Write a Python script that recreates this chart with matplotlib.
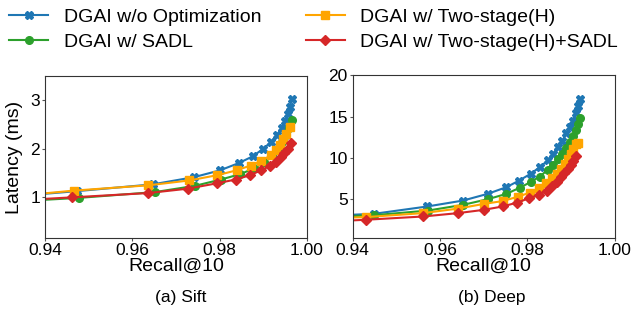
import matplotlib
matplotlib.use("Agg")
import matplotlib.pyplot as plt

plt.rcParams["font.family"] = ["Liberation Sans", "DejaVu Sans"]
plt.rcParams["font.size"] = 12

labels = [
    "DGAI w/o Optimization",
    "DGAI w/ SADL",
    "DGAI w/ Two-stage(H)",
    "DGAI w/ Two-stage(H)+SADL",
]
colors = ["#1f77b4", "#2ca02c", "#ffa500", "#d62728"]
markers = ["X", "o", "s", "D"]

# (a) Sift
sift_recall = [
    [0.930, 0.9474, 0.9647, 0.9742, 0.9801, 0.9844, 0.9876, 0.9899, 0.9917,
     0.9931, 0.9942, 0.9950, 0.9956, 0.9961, 0.9965],
    [0.930, 0.9478, 0.9652, 0.9744, 0.9803, 0.9847, 0.9879, 0.9902, 0.9921,
     0.9934, 0.9944, 0.9952, 0.9959, 0.9965],
    [0.930, 0.9466, 0.9637, 0.9730, 0.9795, 0.9839, 0.9871, 0.9896, 0.9917,
     0.9929, 0.9938, 0.9946, 0.9953, 0.9961],
    [0.930, 0.9461, 0.9637, 0.9727, 0.9793, 0.9837, 0.9870, 0.9895, 0.9915,
     0.9929, 0.9940, 0.9948, 0.9956, 0.9963],
]
sift_latency = [
    [0.99, 1.12, 1.26, 1.41, 1.55, 1.70, 1.84, 1.99, 2.13, 2.28, 2.42, 2.57,
     2.71, 2.86, 3.02],
    [0.89, 0.98, 1.10, 1.23, 1.36, 1.47, 1.59, 1.73, 1.86, 2.00, 2.14, 2.28,
     2.43, 2.59],
    [0.99, 1.13, 1.24, 1.34, 1.45, 1.55, 1.65, 1.75, 1.86, 1.97, 2.08, 2.19,
     2.31, 2.45],
    [0.91, 0.99, 1.08, 1.17, 1.28, 1.36, 1.45, 1.55, 1.64, 1.73, 1.82, 1.91,
     2.00, 2.11],
]

# (b) Deep
deep_recall = [
    [0.935, 0.9449, 0.9571, 0.9653, 0.9709, 0.9752, 0.9781, 0.9807, 0.9828,
     0.9848, 0.9859, 0.9870, 0.9880, 0.9889, 0.9897, 0.9903, 0.9910, 0.9915,
     0.9920],
    [0.935, 0.9449, 0.9573, 0.9653, 0.9710, 0.9752, 0.9783, 0.9807, 0.9828,
     0.9846, 0.9859, 0.9870, 0.9880, 0.9889, 0.9897, 0.9903, 0.9910, 0.9915,
     0.9920],
    [0.935, 0.9430, 0.9562, 0.9642, 0.9701, 0.9743, 0.9779, 0.9806, 0.9827,
     0.9842, 0.9855, 0.9867, 0.9877, 0.9886, 0.9893, 0.9899, 0.9905, 0.9910,
     0.9915],
    [0.935, 0.9430, 0.9562, 0.9642, 0.9701, 0.9743, 0.9777, 0.9804, 0.9826,
     0.9844, 0.9857, 0.9867, 0.9876, 0.9884, 0.9892, 0.9899, 0.9905, 0.9912],
]
deep_latency = [
    [3.0, 3.22, 4.11, 4.83, 5.64, 6.45, 7.25, 8.06, 8.87, 9.75, 10.48, 11.36,
     12.09, 12.98, 13.78, 14.50, 15.40, 16.28, 17.09],
    [2.85, 3.05, 3.62, 4.31, 5.00, 5.64, 6.40, 7.06, 7.73, 8.54, 9.11, 9.84,
     10.48, 11.20, 11.93, 12.65, 13.38, 14.10, 14.80],
    [2.7, 2.82, 3.31, 3.86, 4.43, 4.76, 5.31, 5.80, 6.37, 7.01, 7.54, 8.06,
     8.63, 9.23, 9.84, 10.44, 11.08, 11.69, 11.77],
    [2.3, 2.50, 2.90, 3.31, 3.71, 4.11, 4.59, 5.12, 5.52, 6.00, 6.61, 7.13,
     7.66, 8.14, 8.63, 9.15, 9.67, 10.24],
]

fig = plt.figure(figsize=(6.34, 3.16), dpi=100)
ax0 = fig.add_axes([0.071, 0.247, 0.413, 0.512])
ax1 = fig.add_axes([0.556, 0.247, 0.414, 0.515])


def draw(ax, rec, lat):
    lines = []
    for i in range(4):
        ln, = ax.plot(rec[i], lat[i], color=colors[i], marker=markers[i],
                      markersize=5.5, linewidth=1.5, label=labels[i])
        lines.append(ln)
    ax.set_xlim(0.94, 1.00)
    ax.set_xticks([0.94, 0.96, 0.98, 1.00])
    ax.set_xlabel("Recall@10", fontsize=14, labelpad=0)
    ax.tick_params(labelsize=12.5, length=2, pad=1.5, color="#555555")
    for s in ax.spines.values():
        s.set_color("#333333")
    return lines


lines = draw(ax0, sift_recall, sift_latency)
ax0.set_ylim(0.15, 3.5)
ax0.set_yticks([1, 2, 3])
ax0.set_ylabel("Latency (ms)", fontsize=14, labelpad=5)
draw(ax1, deep_recall, deep_latency)
ax1.set_ylim(0.3, 20)
ax1.set_yticks([5, 10, 15, 20])

fig.text(0.285, 0.057, "(a) Sift", ha="center", va="center", fontsize=12.5)
fig.text(0.776, 0.057, "(b) Deep", ha="center", va="center", fontsize=12.5)

fig.legend(handles=lines, ncol=2, fontsize=14,
           loc="upper left", bbox_to_anchor=(-0.013, 1.03), frameon=False,
           columnspacing=2.3, handletextpad=0.8, labelspacing=0.4)

fig.savefig("out.png", dpi=100)
